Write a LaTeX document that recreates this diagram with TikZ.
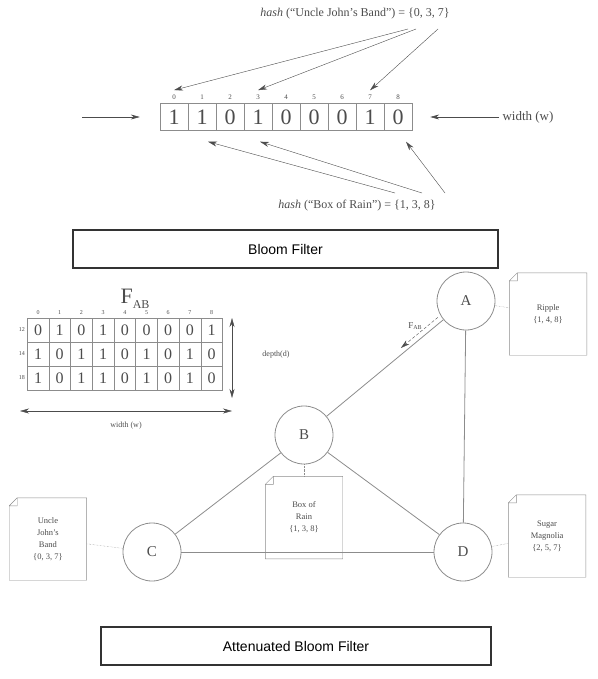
\documentclass[tikz,border=0pt]{standalone}
\usepackage{fontspec}
\setmainfont{Liberation Serif}
\newfontfamily\capfont{Liberation Sans}
\usetikzlibrary{arrows.meta,positioning,calc}
\definecolor{linegray}{gray}{0.55}
\definecolor{textgray}{gray}{0.3}
\definecolor{boxgray}{gray}{0.2}

\begin{document}
\begin{tikzpicture}[x=1pt,y=-1pt,>={Stealth[length=9pt,width=5pt]},
    bit/.style={draw=linegray,minimum width=28pt,minimum height=27pt,inner sep=0pt,
                font=\fontsize{22}{22}\selectfont,text=textgray},
    idx/.style={font=\fontsize{7}{7}\selectfont,text=textgray,inner sep=0pt},
    cell/.style={draw=linegray,minimum width=21.7pt,minimum height=24pt,inner sep=0pt,
                 font=\fontsize{16}{16}\selectfont,text=textgray},
    peer/.style={circle,draw=linegray,thick,minimum size=58pt,inner sep=0pt,
                 font=\fontsize{15}{15}\selectfont,text=textgray},
    note/.style={align=center,minimum width=77pt,minimum height=82pt,inner sep=0pt,
                 font=\fontsize{8.5}{12}\selectfont,text=textgray},
    caption/.style={draw=boxgray,line width=2pt,inner sep=0pt,
                    font=\capfont\fontsize{14}{14}\selectfont},
    hashtext/.style={font=\fontsize{12}{12}\selectfont,text=textgray},
    link/.style={draw=linegray,thick},
    pointer/.style={->,draw=textgray,thin}]

  \useasboundingbox (0,0) rectangle (597,679);

  % bloom filter
  \node[hashtext] (hu) at (355,14) {\textit{hash} (``Uncle John's Band'') = \{0, 3, 7\}};
  \foreach \v [count=\i from 0] in {1,1,0,1,0,0,0,1,0} {
    \node[bit] (b\i) at (174+28*\i,117) {\v};
    \node[idx,above=4pt of b\i] (i\i) {\i};
  }
  \node[hashtext] (hb) at (357,206) {\textit{hash} (``Box of Rain'') = \{1, 3, 8\}};
  \node[hashtext,font=\fontsize{13}{13}\selectfont] (wtop) at (528,117) {width (w)};
  \coordinate (lin) at (82,117);
  \coordinate (u0) at (408,29);
  \coordinate (u3) at (416,29);
  \coordinate (u7) at (438,29);
  \coordinate (r1) at (395,193);
  \coordinate (r3) at (422,193);
  \coordinate (r8) at (445,193);

  \draw[pointer] (u0) -- ([yshift=4pt]i0.north);
  \draw[pointer] (u3) -- ([yshift=4pt]i3.north);
  \draw[pointer] (u7) -- ([yshift=4pt]i7.north);
  \draw[pointer] (r1) -- ([shift={(6pt,-11pt)}]b1.south);
  \draw[pointer] (r3) -- ([shift={(2pt,-11pt)}]b3.south);
  \draw[pointer] (r8) -- ([shift={(8pt,-11pt)}]b8.south);
  \draw[pointer,semithick] (lin) -- ([xshift=-20pt]b0.west);
  \draw[pointer,semithick] (wtop.west) -- ([xshift=18pt]b8.east);

  \node[caption,minimum width=425pt,minimum height=38pt] (bf) at (285.5,249) {Bloom Filter};

  % attenuated filter of the link A -> B
  \node[text=textgray,font=\fontsize{22}{22}\selectfont] (fab) at (135,299)
    {F\raisebox{-0.45ex}{\fontsize{12}{12}\selectfont AB}};
  \foreach \row [count=\r from 0] in {{0,1,0,1,0,0,0,0,1},{1,0,1,1,0,1,0,1,0},{1,0,1,1,0,1,0,1,0}}
    \foreach \v [count=\c from 0] in \row
      \node[cell] (t\r\c) at (38+21.7*\c,330+24*\r) {\v};
  \foreach \c in {0,...,8}
    \node[idx,font=\fontsize{6}{6}\selectfont,above=3pt of t0\c] (ci\c) {\c};
  \foreach \lab [count=\r from 0] in {12,14,18}
    \node[idx,font=\fontsize{6}{6}\selectfont,left=2pt of t\r0] (rl\r) {\lab};
  \coordinate (dtop) at (232,318);
  \coordinate (dbot) at (232,398);
  \coordinate (wl) at (20,411);
  \coordinate (wr) at (232,411);
  \draw[pointer,<->] (dtop) -- (dbot);
  \draw[pointer,<->] (wl) -- (wr);
  \node[idx,font=\fontsize{8}{8}\selectfont] (dlab) at (276,355) {depth(d)};
  \node[idx,font=\fontsize{8}{8}\selectfont] (wlab) at (126,426) {width (w)};

  % peers
  \node[peer] (A) at (466,301) {A};
  \node[peer] (B) at (304,435) {B};
  \node[peer] (C) at (152,552) {C};
  \node[peer] (D) at (463,552) {D};

  \node[note] (ripple) [right=14pt of A,yshift=-13pt] {Ripple\\\{1, 4, 8\}};
  \node[note] (rain) [below=12pt of B] {Box of\\Rain\\\{1, 3, 8\}};
  \node[note] (uncle) [left=36pt of C,yshift=13pt] {Uncle\\John's\\Band\\\{0, 3, 7\}};
  \node[note] (sugar) [right=16pt of D,yshift=16pt] {Sugar\\Magnolia\\\{2, 5, 7\}};
  \foreach \n in {ripple,rain,uncle,sugar}
    \draw[linegray] ([yshift=-8pt]\n.north west) -- ([xshift=8pt]\n.north west)
        -- (\n.north east) -- (\n.south east) -- (\n.south west) -- cycle
      ([yshift=-8pt]\n.north west) -- ([shift={(8pt,-8pt)}]\n.north west)
        -- ([xshift=8pt]\n.north west);

  \path[link]
    (A) edge (B)
        edge (D)
    (B) edge (C)
        edge (D)
    (C) edge (D);
  \path[draw=linegray,densely dotted]
    (A) edge (ripple)
    (B) edge (rain)
    (C) edge (uncle)
    (D) edge (sugar);

  \draw[->,draw=textgray,densely dashed] ($(A)!32pt!(B)+(-3.5pt,4pt)$) -- ($(A)!80pt!(B)+(-3.5pt,4pt)$);
  \node[idx,font=\fontsize{9}{9}\selectfont] (fabl) at (415,326) {F\raisebox{-0.4ex}{\fontsize{6}{6}\selectfont AB}};

  \node[caption,minimum width=390pt,minimum height=38pt] (abf) at (296,646) {Attenuated Bloom Filter};
\end{tikzpicture}
\end{document}
